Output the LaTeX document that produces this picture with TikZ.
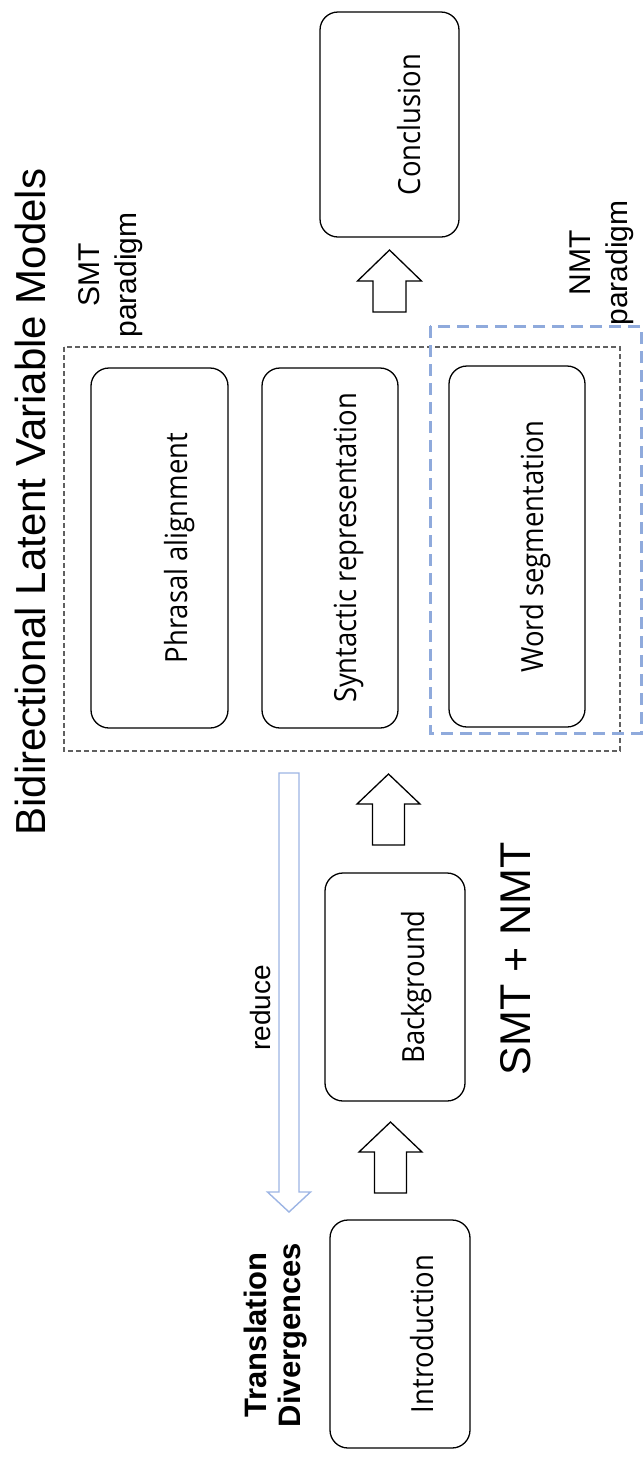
\documentclass[tikz,border=0pt]{standalone}
\usepackage{fontspec}
\setmainfont{Liberation Sans}
\newfontfamily\boxfont[FakeStretch=0.9]{Open Sans}
\newfontfamily\headfont{Liberation Sans}
\definecolor{reduceblue}{HTML}{9DB5E4}
\definecolor{nmtblue}{HTML}{8FAADC}
\definecolor{framegray}{HTML}{606060}
\tikzset{
  chapter/.style={draw, line width=1.3pt, rounded corners=18pt, inner sep=0pt},
  chaptext/.style={rotate=90, inner sep=0pt, font=\boxfont\fontsize{30.5}{36}\selectfont},
  upblock/.style={draw, line width=1.3pt, fill=white, line join=miter},
  smtframe/.style={draw=framegray, line width=1.1pt, dash pattern=on 5pt off 3pt},
  nmtframe/.style={draw=nmtblue, line width=3pt, dash pattern=on 12pt off 7pt},
  paradigm/.style={rotate=90, inner sep=0pt, align=center, font=\headfont\fontsize{30}{37}\selectfont}
}
% hollow block arrow pointing up: centre x, tip y, head base y, tail y, head half width, shaft half width
\newcommand\blockup[6]{%
  \draw[upblock] (#1,#2) -- (#1+#5,#3) -- (#1+#6,#3) -- (#1+#6,#4) -- (#1-#6,#4)
    -- (#1-#6,#3) -- (#1-#5,#3) -- cycle;}
\begin{document}
\begin{tikzpicture}[x=1pt,y=-1pt]
\useasboundingbox (0,0) rectangle (644,1460);

% chapter boxes
\node[chapter, minimum width=139pt, minimum height=225pt] (conc)  at (389.5,124.5) {};
\node[chapter, minimum width=137pt, minimum height=360pt] (phr)   at (159.5,548) {};
\node[chapter, minimum width=136pt, minimum height=360pt] (syn)   at (330,548) {};
\node[chapter, minimum width=136pt, minimum height=361pt] (word)  at (517,546.5) {};
\node[chapter, minimum width=140pt, minimum height=228pt] (back)  at (395,987) {};
\node[chapter, minimum width=140pt, minimum height=228pt] (intro) at (400,1334) {};

\node[chaptext] (concT)  at ([xshift=20pt]conc.center)  {Conclusion};
\node[chaptext] (phrT)   at ([xshift=20pt]phr.center)   {Phrasal alignment};
\node[chaptext] (synT)   at ([xshift=19pt]syn.center)   {Syntactic representation};
\node[chaptext] (wordT)  at ([xshift=19pt]word.center)  {Word segmentation};
\node[chaptext] (backT)  at ([xshift=22pt]back.center)  {Background};
\node[chaptext] (introT) at ([xshift=22pt]intro.center) {Introduction};

% paradigm frames
\coordinate (smtA) at (64,347);
\coordinate (smtB) at (620,751);
\draw[smtframe] (smtA) rectangle (smtB);
\coordinate (nmtA) at (430,326);
\coordinate (nmtB) at (641,733);
\draw[nmtframe] (nmtA) rectangle (nmtB);

% reading order arrows
\blockup{389.5}{250}{281}{312}{32}{16.5}
\blockup{388.5}{774}{804}{845}{31.5}{16}
\blockup{390.5}{1122}{1152}{1193}{31.5}{16}

% reduce arrow
\draw[draw=reduceblue, line width=1.4pt, line join=miter, fill=white]
  (279,773) -- (299,773) -- (299,1192) -- (310.5,1192) -- (289,1212)
  -- (267.5,1192) -- (279,1192) -- cycle;

% labels
\node[rotate=90, inner sep=0pt, font=\headfont\fontsize{42}{48}\selectfont] (title) at (30,502)
  {Bidirectional Latent Variable Models};
\node[paradigm] (smtL) at (111,275) {SMT\\paradigm};
\node[paradigm] (nmtL) at (602,263) {NMT\\paradigm};
\node[rotate=90, inner sep=0pt, font=\headfont\fontsize{28}{32}\selectfont] (redL) at (260,1008) {reduce};
\node[rotate=90, inner sep=0pt, font=\headfont\fontsize{43}{48}\selectfont] (mixL) at (516,959) {SMT + NMT};
\node[rotate=90, inner sep=0pt, align=center, font=\headfont\bfseries\fontsize{31}{34}\selectfont] (divL) at (275.5,1335)
  {Translation\\Divergences};
\end{tikzpicture}
\end{document}
